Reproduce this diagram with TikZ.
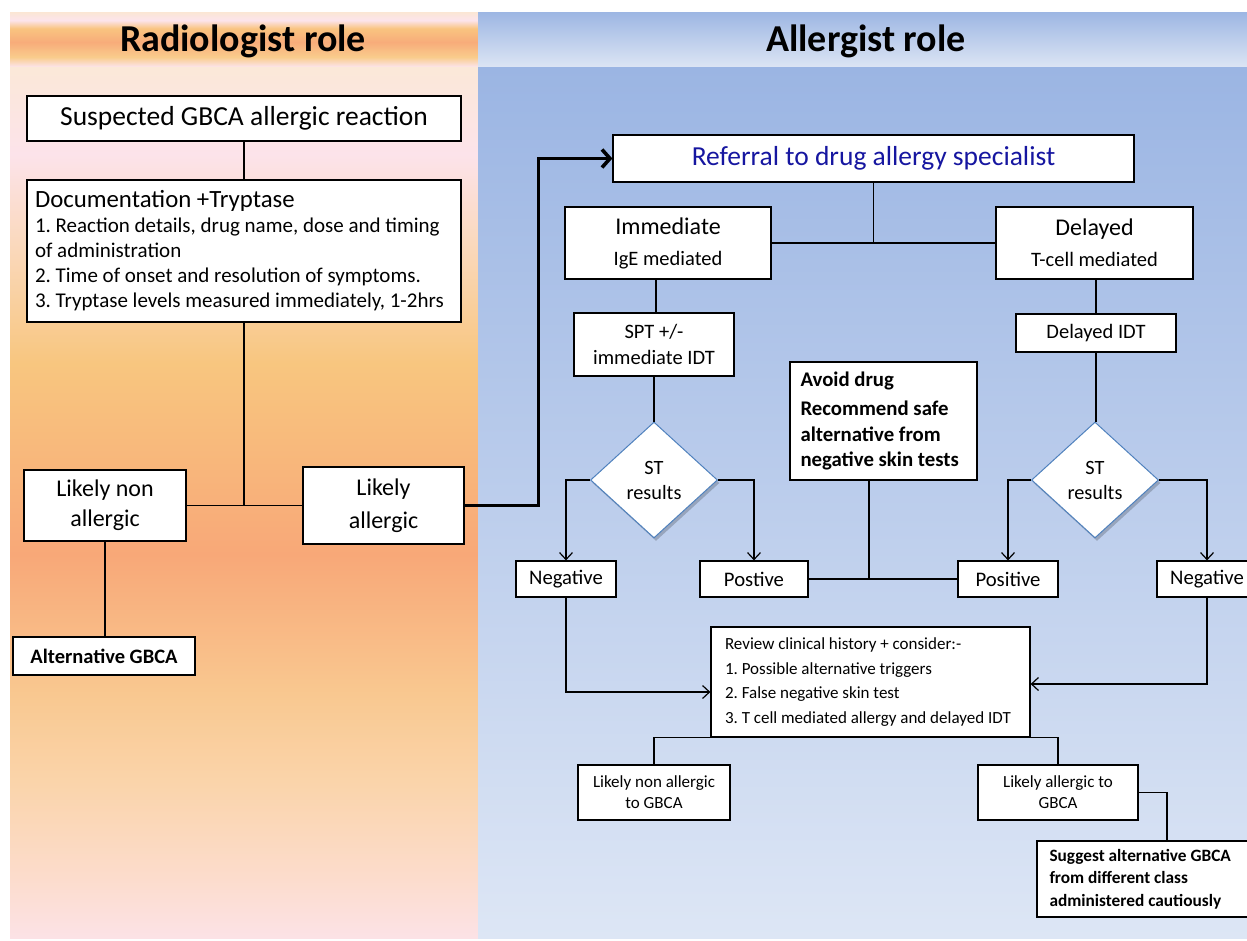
\documentclass[tikz,border=0pt]{standalone}
\usepackage{fontspec}
\setmainfont{Carlito}
\frenchspacing
\usetikzlibrary{shapes.geometric,arrows.meta,shadows,calc}
\newcommand{\natsp}{\spaceskip=0pt\relax\xspaceskip=0pt\relax}

\definecolor{lbA}{HTML}{FCE2E6}
\definecolor{lbB}{HTML}{FCDCCC}
\definecolor{lbC}{HTML}{FAD4AA}
\definecolor{lbD}{HTML}{F9C890}
\definecolor{lbE}{HTML}{F8A878}
\definecolor{lbF}{HTML}{F8BA7C}
\definecolor{lbG}{HTML}{F8C67F}
\definecolor{lbH}{HTML}{FAD8BA}
\definecolor{lbI}{HTML}{FCE3EA}
\definecolor{lbJ}{HTML}{FBE8D8}
\definecolor{lhA}{HTML}{FCE4EC}
\definecolor{lhB}{HTML}{F9CC8C}
\definecolor{lhC}{HTML}{F8AC7A}
\definecolor{lhD}{HTML}{F9C480}
\definecolor{lhE}{HTML}{FCE4EC}
\definecolor{lhF}{HTML}{FBE6D4}
\definecolor{rhA}{HTML}{DCE5F4}
\definecolor{rhB}{HTML}{9DB6E3}
\definecolor{rbA}{HTML}{DDE6F5}
\definecolor{rbB}{HTML}{9BB5E3}
\definecolor{refblue}{RGB}{22,22,160}
\definecolor{diablue}{HTML}{4F81BD}

% TikZ maps the 25bp..75bp band of a 100bp shading onto the path
\pgfdeclareverticalshading{leftbody}{100bp}{color(0bp)=(lbA); color(25bp)=(lbA); color(28.5bp)=(lbB); color(34bp)=(lbC); color(39bp)=(lbD); color(47bp)=(lbE); color(53.5bp)=(lbF); color(58bp)=(lbG); color(64.5bp)=(lbH); color(70bp)=(lbI); color(75bp)=(lbJ); color(100bp)=(lbJ)}
\pgfdeclareverticalshading{lefthead}{100bp}{color(0bp)=(lhA); color(25bp)=(lhA); color(34bp)=(lhB); color(47.5bp)=(lhC); color(60bp)=(lhD); color(67.5bp)=(lhE); color(75bp)=(lhF); color(100bp)=(lhF)}
\pgfdeclareverticalshading{righthead}{100bp}{color(0bp)=(rhA); color(25bp)=(rhA); color(75bp)=(rhB); color(100bp)=(rhB)}
\pgfdeclareverticalshading{rightbody}{100bp}{color(0bp)=(rbA); color(25bp)=(rbA); color(75bp)=(rbB); color(100bp)=(rbB)}

\begin{document}
\begin{tikzpicture}[x=1pt,y=-1pt,
  box/.style={draw=black, line width=1.2pt, fill=white, inner sep=0pt, align=center},
  conn/.style={draw=black, line width=1.2pt},
  arr/.style={conn, -{Straight Barb[length=7pt,width=13pt]}},
  bigarr/.style={draw=black, line width=3.6pt, -{Straight Barb[length=8pt,width=18pt]}},
  dia/.style={diamond, draw=diablue, line width=1pt, fill=white, inner sep=0pt, align=center,
    drop shadow={shadow xshift=2pt, shadow yshift=-3pt, opacity=0.2, fill=black}},
  hfont/.style={font=\fontsize{38}{40}\selectfont\bfseries}
]
\useasboundingbox (0,0) rectangle (1247,940);
\clip (0,0) rectangle (1247,940);
\fill[white] (0,0) rectangle (1247,940);
\shade[shading=lefthead] (10,12) rectangle (478,67);
\shade[shading=leftbody] (10,67) rectangle (478,938);
\shade[shading=righthead] (478,12) rectangle (1247,67);
\shade[shading=rightbody] (478,67) rectangle (1247,938);

\node[hfont] (hl) at (243,41) {Radiologist role};
\node[hfont] (hr) at (866,41) {Allergist role};

% left column
\node[box, minimum width=434, minimum height=45, font=\fontsize{27.5}{30}\selectfont] (sus) at (244,118.5) {Suspected GBCA allergic reaction};
\node[box, minimum width=434, minimum height=142, text width=418, align=left, font=\fontsize{21}{25}\selectfont] (doc) at (244,251)
  {\natsp{\fontsize{24.8}{25}\selectfont Documentation +Tryptase}\\
   1. Reaction details, drug name, dose and timing\\
   of administration\\
   2. Time of onset and resolution of symptoms.\\
   3. Tryptase levels measured immediately, 1-2hrs};
\node[box, minimum width=162, minimum height=71, font=\fontsize{24}{30}\selectfont] (lna) at (105,505.5) {Likely non\\allergic};
\node[box, minimum width=161, minimum height=77, font=\fontsize{24}{33}\selectfont] (la) at (383.5,505.5) {Likely\\allergic};
\node[box, minimum width=182, minimum height=38, font=\fontsize{20.5}{22}\selectfont\bfseries] (alt) at (104,656) {Alternative GBCA};

\draw[conn] (sus.south) -- (doc.north);
\draw[conn] (doc.south) -- (doc.south |- lna.east);
\draw[conn] (lna.east) -- (la.west);
\draw[conn] (lna.south) -- (lna.south |- alt.north);

% right column
\node[box, minimum width=521, minimum height=47, text=refblue, font=\fontsize{27.5}{30}\selectfont] (ref) at (873.5,158.5) {Referral to drug allergy specialist};
\node[box, minimum width=206, minimum height=72, font=\fontsize{20.5}{24}\selectfont] (imm) at (668,243)
  {{\fontsize{24}{24}\selectfont Immediate}\\[7pt]IgE mediated};
\node[box, minimum width=197, minimum height=72, font=\fontsize{20.5}{24}\selectfont] (del) at (1094.5,243)
  {{\fontsize{24}{24}\selectfont Delayed}\\[7pt]T-cell mediated};
\node[box, minimum width=160, minimum height=63, font=\fontsize{20.5}{26}\selectfont] (spt) at (654,344.5) {SPT +/-\\immediate IDT};
\node[box, minimum width=160, minimum height=38, font=\fontsize{20.5}{22}\selectfont] (didt) at (1096,333) {Delayed IDT};
\node[dia, minimum width=127, minimum height=116, font=\fontsize{20.3}{25}\selectfont] (d1) at (654,480) {ST\\results};
\node[dia, minimum width=127, minimum height=116, font=\fontsize{20.3}{25}\selectfont] (d2) at (1095,480) {ST\\results};
\node[box, minimum width=187, minimum height=118, text width=166, align=left, font=\fontsize{20.8}{25.5}\selectfont\bfseries] (avoid) at (883.5,421)
  {\natsp Avoid drug\\[4pt] Recommend safe\\ alternative from\\ negative skin tests};
\node[box, minimum width=100, minimum height=36, font=\fontsize{20.7}{22}\selectfont] (neg1) at (566,579) {Negative};
\node[box, minimum width=108, minimum height=36, font=\fontsize{20.7}{22}\selectfont] (pos1) at (754,579) {Postive};
\node[box, minimum width=100, minimum height=36, font=\fontsize{20.7}{22}\selectfont] (pos2) at (1008,579) {Positive};
\node[box, minimum width=100, minimum height=36, font=\fontsize{20.7}{22}\selectfont] (neg2) at (1207,579) {Negative};
\node[box, minimum width=319, minimum height=110, text width=291, align=left, font=\fontsize{17}{24.5}\selectfont] (rev) at (870.5,682)
  {\natsp Review clinical history + consider:-\\
   1. Possible alternative triggers\\
   2. False negative skin test\\
   3. T cell mediated allergy and delayed IDT};
\node[box, minimum width=152, minimum height=55, font=\fontsize{17}{21}\selectfont] (lnag) at (654,792.5) {Likely non allergic\\to GBCA};
\node[box, minimum width=160, minimum height=55, font=\fontsize{17}{21}\selectfont] (lag) at (1058,792.5) {Likely allergic to\\GBCA};
\node[box, minimum width=215, minimum height=76, text width=190, align=left, font=\fontsize{17.3}{22.5}\selectfont\bfseries] (sug) at (1144.5,879)
  {\natsp Suggest alternative GBCA\\ from different class\\ administered cautiously};

% connectors right
\draw[bigarr] (la.east) -- ++(74,0) |- (ref.west);
\draw[conn] (ref.south) -- (ref.south |- imm.east);
\draw[conn] (imm.east) -- (del.west);
\draw[conn] ([xshift=2pt]spt.north) -- ([xshift=2pt]spt.north |- imm.south);
\draw[conn] (didt.north) -- (didt.north |- del.south);
\draw[conn] (spt.south) -- (d1.north);
\draw[conn] (didt.south) -- (didt.south |- d2.north);
\draw[arr] (d1.west) -| (neg1.north);
\draw[arr] (d1.east) -| (pos1.north);
\draw[arr] (d2.west) -| (pos2.north);
\draw[arr] (d2.east) -| (neg2.north);
\draw[conn] (pos1.east) -- (pos2.west);
\draw[conn] ([xshift=-14.5pt]avoid.south) -- ([xshift=-14.5pt]avoid.south |- pos1.east);
\draw[arr] (neg1.south) |- ([yshift=-10pt]rev.west);
\draw[arr] (neg2.south) |- ([yshift=-2pt]rev.west -| rev.east);
\draw[conn] (lnag.north) |- (rev.south) -| (lag.north);
\draw[conn] (lag.east) -| ([xshift=22.5pt]sug.north);
\end{tikzpicture}
\end{document}
